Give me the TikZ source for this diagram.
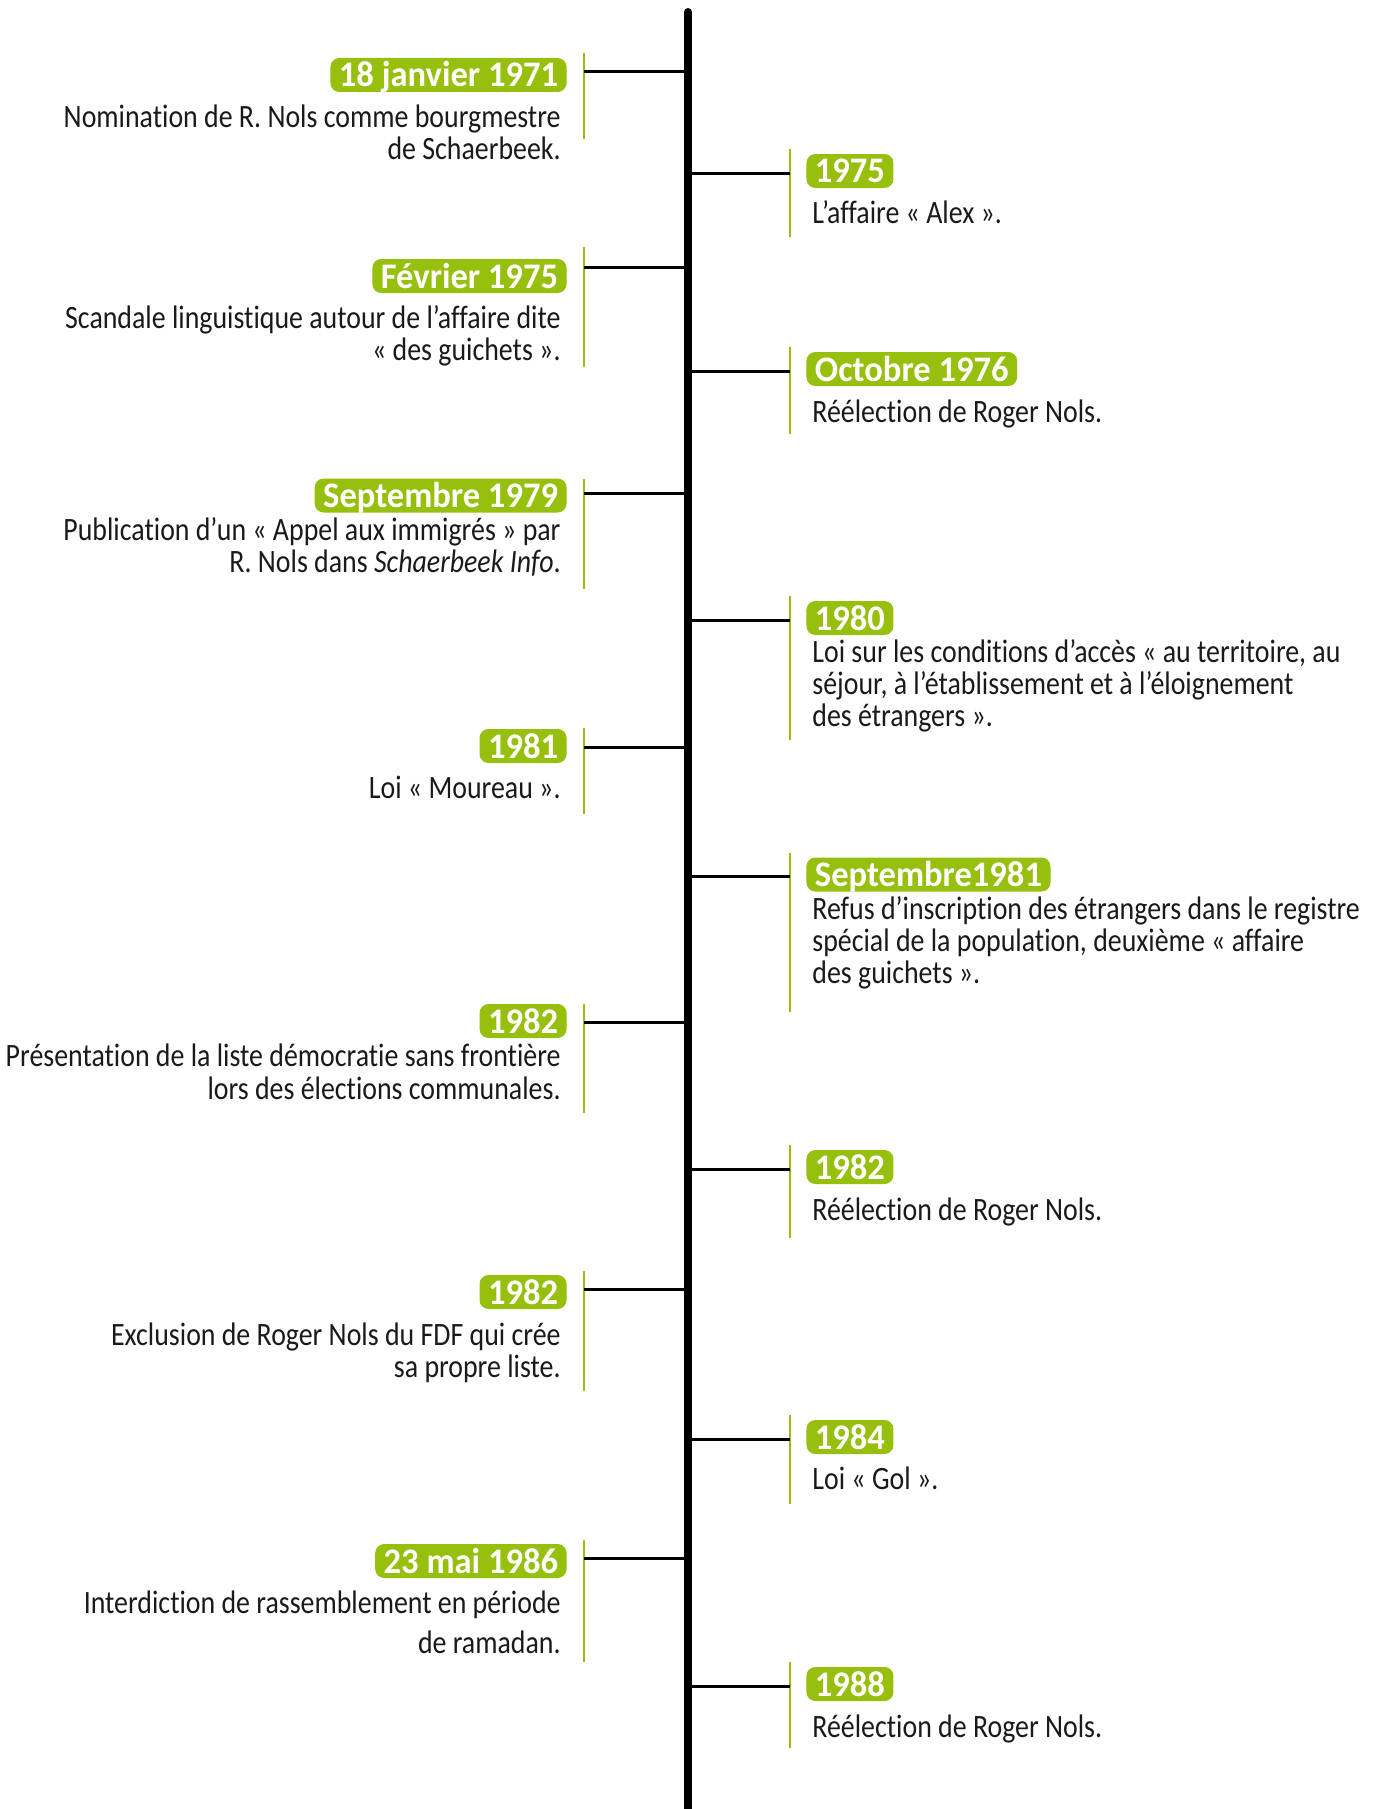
\documentclass[tikz,border=0pt]{standalone}
\usepackage{fontspec}
\setmainfont{Carlito}[FakeStretch=0.855,Ligatures=NoCommon]
\newfontfamily\labfont{Carlito}[FakeStretch=0.96,Ligatures=NoCommon]
\definecolor{tlgreen}{RGB}{151,191,13}
\definecolor{tltext}{RGB}{26,26,26}
\begin{document}
\begin{tikzpicture}[x=0.5pt,y=-0.5pt,
  spine/.style={line width=4pt,black,line cap=round},
  conn/.style={line width=1.5pt,black},
  gbar/.style={line width=1.25pt,tlgreen},
  lab/.style={fill=tlgreen,text=white,rounded corners=4.5pt,inner xsep=4.25pt,inner ysep=0pt,
    text height=14.5pt,text depth=2.5pt,font=\labfont\bfseries\fontsize{18}{18}\selectfont},
  bodyL/.style={anchor=base east,inner sep=0pt,text=tltext,font=\fontsize{16.3}{16}\selectfont},
  bodyR/.style={anchor=base west,inner sep=0pt,text=tltext,font=\fontsize{16.3}{16}\selectfont}]
\useasboundingbox (0,0) rectangle (1375,1809);
% spine
\coordinate (top) at (688,12);
\coordinate (bot) at (688,1830);
\draw[spine] (top) -- (bot);

% ---------- left entries ----------
% L1
\coordinate (L1t) at (584,53); \coordinate (L1b) at (584,139);
\coordinate (L1c) at (584,72); \coordinate (S1) at (688,72);
\draw[gbar] (L1t) -- (L1b); \draw[conn] (L1c) -- (S1);
\node[lab,anchor=base east] (L1lab) at (567,87) {18 janvier 1971};
\node[bodyL] (L1x1) at (561,127) {Nomination de R. Nols comme bourgmestre};
\node[bodyL] (L1x2) at (561,159) {de Schaerbeek.};
% L2
\coordinate (L2t) at (584,247); \coordinate (L2b) at (584,367);
\coordinate (L2c) at (584,267); \coordinate (S2) at (688,267);
\draw[gbar] (L2t) -- (L2b); \draw[conn] (L2c) -- (S2);
\node[lab,anchor=base east] (L2lab) at (567,288) {Février 1975};
\node[bodyL] (L2x1) at (561,328.5) {Scandale linguistique autour de l’affaire dite};
\node[bodyL] (L2x2) at (561,360.8) {« des guichets ».};
% L3
\coordinate (L3t) at (584,479); \coordinate (L3b) at (584,589);
\coordinate (L3c) at (584,493); \coordinate (S3) at (688,493);
\draw[gbar] (L3t) -- (L3b); \draw[conn] (L3c) -- (S3);
\node[lab,anchor=base east] (L3lab) at (567,507.5) {Septembre 1979};
\node[bodyL] (L3x1) at (561,540.5) {Publication d’un « Appel aux immigrés » par};
\node[bodyL] (L3x2) at (561,572.5) {R. Nols dans \textit{Schaerbeek Info}.};
% L4
\coordinate (L4t) at (584,728); \coordinate (L4b) at (584,814);
\coordinate (L4c) at (584,747); \coordinate (S4) at (688,747);
\draw[gbar] (L4t) -- (L4b); \draw[conn] (L4c) -- (S4);
\node[lab,anchor=base east] (L4lab) at (567,758) {1981};
\node[bodyL] (L4x1) at (561,798) {Loi « Moureau ».};
% L5
\coordinate (L5t) at (584,1003.5); \coordinate (L5b) at (584,1113);
\coordinate (L5c) at (584,1022); \coordinate (S5) at (688,1022);
\draw[gbar] (L5t) -- (L5b); \draw[conn] (L5c) -- (S5);
\node[lab,anchor=base east] (L5lab) at (567,1033) {1982};
\node[bodyL] (L5x1) at (561,1066.8) {Présentation de la liste démocratie sans frontière};
\node[bodyL] (L5x2) at (561,1099) {lors des élections communales.};
% L6
\coordinate (L6t) at (584,1271); \coordinate (L6b) at (584,1391);
\coordinate (L6c) at (584,1289); \coordinate (S6) at (688,1289);
\draw[gbar] (L6t) -- (L6b); \draw[conn] (L6c) -- (S6);
\node[lab,anchor=base east] (L6lab) at (567,1304) {1982};
\node[bodyL] (L6x1) at (561,1345) {Exclusion de Roger Nols du FDF qui crée};
\node[bodyL] (L6x2) at (561,1377) {sa propre liste.};
% L7
\coordinate (L7t) at (584,1540); \coordinate (L7b) at (584,1662);
\coordinate (L7c) at (584,1558); \coordinate (S7) at (688,1558);
\draw[gbar] (L7t) -- (L7b); \draw[conn] (L7c) -- (S7);
\node[lab,anchor=base east] (L7lab) at (567,1573) {23 mai 1986};
\node[bodyL] (L7x1) at (561,1613) {Interdiction de rassemblement en période};
\node[bodyL] (L7x2) at (561,1653) {de ramadan.};

% ---------- right entries ----------
% R1
\coordinate (R1t) at (790,149); \coordinate (R1b) at (790,237);
\coordinate (R1c) at (790,173); \coordinate (T1) at (688,173);
\draw[gbar] (R1t) -- (R1b); \draw[conn] (T1) -- (R1c);
\node[lab,anchor=base west] (R1lab) at (806,183) {1975};
\node[bodyR] (R1x1) at (812,223) {L’affaire « Alex ».};
% R2
\coordinate (R2t) at (790,347); \coordinate (R2b) at (790,434);
\coordinate (R2c) at (790,371); \coordinate (T2) at (688,371);
\draw[gbar] (R2t) -- (R2b); \draw[conn] (T2) -- (R2c);
\node[lab,anchor=base west] (R2lab) at (806,381) {Octobre 1976};
\node[bodyR] (R2x1) at (812,422) {Réélection de Roger Nols.};
% R3
\coordinate (R3t) at (790,596); \coordinate (R3b) at (790,740);
\coordinate (R3c) at (790,620); \coordinate (T3) at (688,620);
\draw[gbar] (R3t) -- (R3b); \draw[conn] (T3) -- (R3c);
\node[lab,anchor=base west] (R3lab) at (806,630) {1980};
\node[bodyR] (R3x1) at (812,662) {Loi sur les conditions d’accès « au territoire, au};
\node[bodyR] (R3x2) at (812,694) {séjour, à l’établissement et à l’éloignement};
\node[bodyR] (R3x3) at (812,726) {des étrangers ».};
% R4
\coordinate (R4t) at (790,853); \coordinate (R4b) at (790,1012);
\coordinate (R4c) at (790,876); \coordinate (T4) at (688,876);
\draw[gbar] (R4t) -- (R4b); \draw[conn] (T4) -- (R4c);
\node[lab,anchor=base west] (R4lab) at (806,886.5) {Septembre1981};
\node[bodyR] (R4x1) at (812,919) {Refus d’inscription des étrangers dans le registre};
\node[bodyR] (R4x2) at (812,951) {spécial de la population, deuxième « affaire};
\node[bodyR] (R4x3) at (812,983) {des guichets ».};
% R5
\coordinate (R5t) at (790,1145); \coordinate (R5b) at (790,1238);
\coordinate (R5c) at (790,1169.6); \coordinate (T5) at (688,1169.6);
\draw[gbar] (R5t) -- (R5b); \draw[conn] (T5) -- (R5c);
\node[lab,anchor=base west] (R5lab) at (806,1179) {1982};
\node[bodyR] (R5x1) at (812,1220) {Réélection de Roger Nols.};
% R6
\coordinate (R6t) at (790,1415); \coordinate (R6b) at (790,1504);
\coordinate (R6c) at (790,1439); \coordinate (T6) at (688,1439);
\draw[gbar] (R6t) -- (R6b); \draw[conn] (T6) -- (R6c);
\node[lab,anchor=base west] (R6lab) at (806,1449) {1984};
\node[bodyR] (R6x1) at (812,1489) {Loi « Gol ».};
% R7
\coordinate (R7t) at (790,1662); \coordinate (R7b) at (790,1748);
\coordinate (R7c) at (790,1686); \coordinate (T7) at (688,1686);
\draw[gbar] (R7t) -- (R7b); \draw[conn] (T7) -- (R7c);
\node[lab,anchor=base west] (R7lab) at (806,1696) {1988};
\node[bodyR] (R7x1) at (812,1737) {Réélection de Roger Nols.};
\end{tikzpicture}
\end{document}
